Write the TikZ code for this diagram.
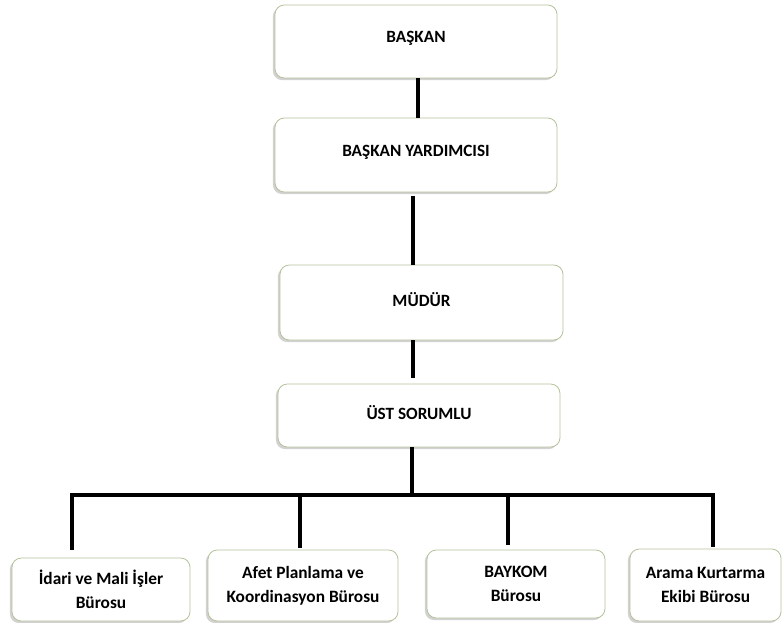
\documentclass[tikz,border=0pt]{standalone}
\usepackage{fontspec}
\setmainfont{Carlito}
\usetikzlibrary{shadows,calc}
\definecolor{boxedge}{HTML}{B4C39A}
\begin{document}
\begin{tikzpicture}[x=0.75pt,y=-0.75pt,
  orgbox/.style={draw=boxedge, line width=0.6pt, fill=white, rounded corners=7pt,
    drop shadow={shadow xshift=-1.6pt, shadow yshift=-1.6pt, opacity=0.35, fill=gray},
    inner sep=0pt},
  toplbl/.style={font=\bfseries\fontsize{12.9}{15}\selectfont, yshift=2.3pt},
  unitbox/.style={orgbox, align=center, font=\bfseries\fontsize{13}{18}\selectfont},
  link/.style={line width=3pt, line cap=rect}]
\useasboundingbox (0,0) rectangle (784,623);
\fill[white] (0,0) rectangle (784,623);

% upper chain of command
\node[orgbox, minimum width=282*0.75pt, minimum height=73*0.75pt,
  label={[toplbl]center:BAŞKAN}] (baskan) at (416,41.5) {};
\node[orgbox, minimum width=282*0.75pt, minimum height=74*0.75pt,
  label={[toplbl]center:BAŞKAN YARDIMCISI}] (yard) at (416,155) {};
\node[orgbox, minimum width=283*0.75pt, minimum height=75*0.75pt,
  label={[toplbl]center:MÜDÜR}] (mudur) at (421.5,302.5) {};
\node[orgbox, minimum width=282*0.75pt, minimum height=63*0.75pt,
  label={[toplbl]center:ÜST SORUMLU}] (ust) at (419,415.5) {};

% bureaus
\node[unitbox, minimum width=178*0.75pt, minimum height=63*0.75pt] (b1) at (101,589.5)
  {İdari ve Mali İşler\\Bürosu};
\node[unitbox, minimum width=190*0.75pt, minimum height=71*0.75pt] (b2) at (303,585.5)
  {Afet Planlama ve\\Koordinasyon Bürosu};
\node[unitbox, minimum width=178*0.75pt, minimum height=68*0.75pt] (b3) at (516,584)
  {BAYKOM\\Bürosu};
\node[unitbox, minimum width=151*0.75pt, minimum height=72*0.75pt] (b4) at (705.5,585)
  {Arama Kurtarma\\Ekibi Bürosu};

% connectors
\draw[link, line cap=butt] (baskan.south -| 418,0) -- (yard.north -| 418,0);
\draw[link, line cap=butt] ($(yard.south -| 413,0)+(0,4)$) -- (mudur.north -| 413,0);
\draw[link, line cap=butt] (mudur.south -| 413,0) -- ($(ust.north -| 413,0)+(0,-6)$);

\coordinate (bus) at (412,495);
\coordinate (busL) at (72,495);
\coordinate (busR) at (713,495);
\draw[link, line cap=butt] (ust.south -| bus) -- (bus);
\draw[link] (busL) -- (busR);
\draw[link, line cap=butt] (busL) -- ($(b1.north -| busL)+(0,-8)$);
\draw[link, line cap=butt] (busL -| 300,0) -- ($(b2.north -| 300,0)+(0,-2)$);
\draw[link, line cap=butt] (busL -| 508,0) -- ($(b3.north -| 508,0)+(0,-5)$);
\draw[link, line cap=butt] (busR) -- ($(b4.north -| busR)+(0,-2)$);
\end{tikzpicture}
\end{document}
